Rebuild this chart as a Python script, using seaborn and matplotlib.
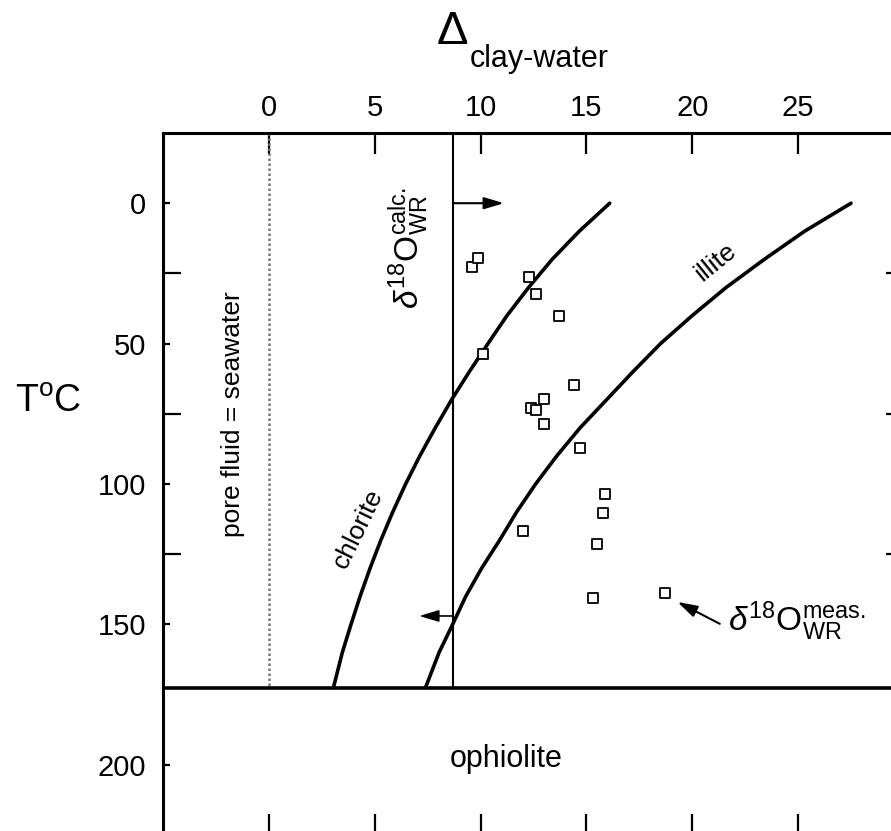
import numpy as np
import pandas as pd
import matplotlib
matplotlib.use("Agg")
import matplotlib.pyplot as plt
from matplotlib.ticker import FixedLocator
import seaborn as sns

# Whole-rock samples: clay-water fractionation vs. temperature
delta_meas = [9.6, 9.9, 12.3, 12.6, 13.7, 10.1, 14.4, 13.0, 12.4, 12.6,
              13.0, 14.7, 15.9, 15.8, 15.5, 12.0, 15.3, 18.7]
temp_meas = [22.7, 19.5, 26.4, 32.4, 40.1, 53.7, 64.8, 69.9, 73.1, 73.8,
             78.8, 87.3, 103.7, 110.4, 121.5, 116.7, 140.5, 138.7]

# Equilibrium fractionation curves
curve_temp = [0, 10, 20, 30, 40, 50, 60, 70, 80, 90, 100, 110, 120, 130,
              140, 150, 160, 172.5]
chlorite_delta = [16.1, 14.66, 13.38, 12.27, 11.25, 10.35, 9.47, 8.63, 7.86,
                  7.13, 6.46, 5.85, 5.29, 4.78, 4.31, 3.88, 3.47, 3.05]
illite_delta = [27.5, 25.3, 23.4, 21.6, 20.0, 18.5, 17.2, 15.95, 14.7, 13.6,
                12.6, 11.7, 10.9, 10.05, 9.3, 8.68, 8.04, 7.4]

calc_wr = 8.7          # calculated whole-rock value
seawater = 0.0         # pore fluid = seawater
basement_top = 172.5   # top of ophiolite

x_ticks = [0, 5, 10, 15, 20, 25]
y_ticks = [0, 50, 100, 150, 200]
y_minor = [25, 75, 125]

sns.set_theme(style="ticks")
plt.rcParams["font.family"] = ["Liberation Sans", "DejaVu Sans"]
plt.rcParams["mathtext.fontset"] = "custom"
plt.rcParams["mathtext.rm"] = "Liberation Sans"
plt.rcParams["mathtext.it"] = "Liberation Sans:italic"
plt.rcParams["mathtext.bf"] = "Liberation Sans:bold"
for key in ["text.color", "axes.labelcolor", "xtick.color", "ytick.color",
            "axes.edgecolor"]:
    plt.rcParams[key] = "black"

W, H = 891, 831
fig = plt.figure(figsize=(W / 100, H / 100), dpi=100)
ax = fig.add_axes([163 / W, (831 - 835) / H, 741 / W, 702 / H])

ax.set_xlim(-5, 30)
ax.set_ylim(225, -25)

df_meas = pd.DataFrame({"delta": delta_meas, "T": temp_meas})
df_chl = pd.DataFrame({"delta": chlorite_delta, "T": curve_temp})
df_ill = pd.DataFrame({"delta": illite_delta, "T": curve_temp})

sns.lineplot(data=df_chl, x="delta", y="T", sort=False, estimator=None,
             color="black", lw=2.6, ax=ax)
sns.lineplot(data=df_ill, x="delta", y="T", sort=False, estimator=None,
             color="black", lw=2.6, ax=ax)
sns.scatterplot(data=df_meas, x="delta", y="T", marker="s", s=60,
                facecolor="white", edgecolor="black", linewidth=1.3, ax=ax,
                zorder=5)

# reference lines
ax.plot([calc_wr, calc_wr], [-25, basement_top], color="black", lw=1.5)
ax.plot([seawater, seawater], [-25, basement_top], color="#777777", lw=1.8,
        ls=(0, (1, 1)))
ax.axhline(basement_top, color="black", lw=2.6)

# arrows
head = "-|>,head_length=1.0,head_width=0.3"
ax.annotate("", xy=(11.1, 0), xytext=(calc_wr, 0),
            arrowprops=dict(arrowstyle=head, color="black", lw=1.5,
                            shrinkA=0, shrinkB=0))
ax.annotate("", xy=(7.1, 147), xytext=(calc_wr, 147),
            arrowprops=dict(arrowstyle=head, color="black", lw=1.2,
                            shrinkA=0, shrinkB=0))
ax.annotate("", xy=(19.3, 142), xytext=(21.3, 149.8),
            arrowprops=dict(arrowstyle=head, color="black", lw=1.5,
                            shrinkA=0, shrinkB=0))

# labels inside the plot
ax.text(-1.7, 75, "pore fluid = seawater", rotation=90, ha="center",
        va="center", fontsize=19)
ax.text(6.6, 16, r"$\delta^{18}\mathrm{O}^{\mathrm{calc.}}_{\mathrm{WR}}$",
        rotation=90, ha="center", va="center", fontsize=24)
ax.text(4.2, 116, "chlorite", rotation=64, ha="center", va="center",
        fontsize=19)
ax.text(21.1, 21, "illite", rotation=39, ha="center", va="center",
        fontsize=19)
ax.text(21.7, 149, r"$\delta^{18}\mathrm{O}^{\mathrm{meas.}}_{\mathrm{WR}}$",
        ha="left", va="center", fontsize=24)
ax.text(11.2, 198, "ophiolite", ha="center", va="center", fontsize=22)

# axes styling
for sp in ax.spines.values():
    sp.set_visible(True)
    sp.set_linewidth(2.2)
    sp.set_color("black")

ax.set_xticks(x_ticks)
ax.set_yticks(y_ticks)
ax.yaxis.set_minor_locator(FixedLocator(y_minor))
ax.xaxis.set_minor_locator(FixedLocator([]))
ax.tick_params(axis="x", which="major", top=True, bottom=True,
               labeltop=True, labelbottom=False, direction="in",
               length=15, width=1.6, labelsize=21, pad=8, color="black")
ax.tick_params(axis="y", which="major", left=True, right=True,
               labelleft=True, labelright=False, direction="in",
               length=5, width=1.6, labelsize=21, pad=12, color="black")
ax.tick_params(axis="y", which="minor", left=True, right=True,
               direction="in", length=13, width=1.6, color="black")
ax.set_xlabel("")
ax.set_ylabel("")

# axis titles
fig.text(452 / W, 1 - 32 / H, r"$\Delta$", ha="center", va="center",
         fontsize=34)
fig.text(470 / W, 1 - 59 / H, "clay-water", ha="left", va="center",
         fontsize=22)
fig.text(15 / W, 1 - 402 / H, r"T$^{\mathrm{o}}$C", ha="left", va="center",
         fontsize=27)

fig.savefig("out.png", dpi=100)
